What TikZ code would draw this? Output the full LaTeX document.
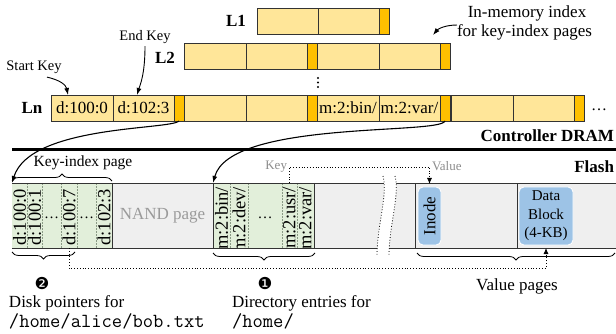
\documentclass[tikz,border=0pt]{standalone}
\usepackage{fontspec}
\setmainfont{Liberation Serif}
\newfontfamily\dingfont{DejaVu Sans}
\usetikzlibrary{arrows.meta,decorations.pathreplacing}

\definecolor{ylw}{HTML}{FFE699}
\definecolor{org}{HTML}{FFC000}
\definecolor{linec}{HTML}{333333}
\definecolor{grn}{HTML}{E2EFDA}
\definecolor{fgray}{HTML}{EFEFEF}
\definecolor{blu}{HTML}{9DC3E6}
\definecolor{nandg}{HTML}{9A9A9A}
\definecolor{keyg}{HTML}{8C8C8C}
\definecolor{divc}{HTML}{8A9A85}

\newcommand\fsA{\fontsize{17}{20}\selectfont}
\newcommand\fsB{\fontsize{14.5}{17}\selectfont}
\newcommand\fsC{\fontsize{13}{15}\selectfont}
\newcommand\fsD{\fontsize{15}{18.5}\selectfont}
\newcommand\fsR{\fontsize{18.5}{20}\selectfont}
\newcommand\fsK{\fontsize{15.5}{18}\selectfont}
\newcommand\fsM{\ttfamily\fontsize{20}{22}\selectfont}

\begin{document}
\begin{tikzpicture}[x=1pt,y=-1pt,font=\fsA,
  every node/.style={inner sep=0pt,outer sep=0pt},
  ycell/.style={draw=linec,line width=0.9pt,fill=ylw,minimum height=26pt,anchor=north west},
  ocell/.style={ycell,fill=org,minimum width=10pt},
  lvl/.style={font=\fsA\bfseries,anchor=base},
  gcell/.style={fill=grn,minimum height=65pt,anchor=north west},
  rtxt/.style={rotate=90,anchor=east,font=\fsR},
  gdiv/.style={draw=divc,line width=0.6pt,dash pattern=on 2pt off 1pt},
  sdiv/.style={draw=linec,line width=0.9pt},
  page/.style={draw=linec,line width=0.9pt,minimum height=65pt,anchor=north west},
  bluebox/.style={fill=blu,draw=white,line width=0.8pt,rounded corners=5pt},
  conn/.style={line width=1.1pt,-{Latex[length=7pt,width=5pt]}},
  dotc/.style={line width=0.8pt,dotted},
  dotarr/.style={dotc,-{Latex[length=6pt,width=5pt]}},
  brc/.style={decorate,decoration={brace,amplitude=7pt},line width=0.8pt},
  gtxt/.style={text=keyg,font=\fsC},
  ell/.style={anchor=base,font=\fontsize{15}{15}\selectfont},
  numb/.style={anchor=base,font=\dingfont\fontsize{16.5}{16.5}\selectfont},
]
\useasboundingbox (0,0) rectangle (616,334);

% ---------------- controller DRAM: levels of the in-memory index
\node[lvl] (l1lbl) at (236,27) {L1};
\node[ycell,minimum width=61pt] (a1) at (257,8) {};
\node[ycell,minimum width=61pt] (a2) at (318,8) {};
\node[ocell] (a3) at (379,8) {};

\node[lvl] (l2lbl) at (165,64) {L2};
\node[ycell,minimum width=62pt] (b1) at (184,43) {};
\node[ycell,minimum width=61pt] (b2) at (246,43) {};
\node[ocell] (b3) at (307,43) {};
\node[ycell,minimum width=62pt] (b4) at (317,43) {};
\node[ycell,minimum width=61pt] (b5) at (379,43) {};
\node[ocell] (b6) at (440,43) {};

\foreach \yy in {78,82.5,87} \fill (318,\yy) circle (1.1pt);

\node[lvl] (lnlbl) at (32,114) {Ln};
\node[ycell,minimum width=62pt] (c1) at (51,95) {d:100:0};
\node[ycell,minimum width=61pt] (c2) at (113,95) {d:102:3};
\node[ocell] (c3) at (174,95) {};
\node[ycell,minimum width=62pt] (c4) at (184,95) {};
\node[ycell,minimum width=61pt] (c5) at (246,95) {};
\node[ocell] (c6) at (307,95) {};
\node[ycell,minimum width=62pt] (c7) at (317,95) {m:2:bin/};
\node[ycell,minimum width=61pt] (c8) at (379,95) {m:2:var/};
\node[ocell] (c9) at (440,95) {};
\node[ycell,minimum width=62pt] (c10) at (451,95) {};
\node[ycell,minimum width=61pt] (c11) at (513,95) {};
\node[ocell] (c12) at (574,95) {};
\node[anchor=base,font=\fontsize{16}{16}\selectfont] (more) at (599,111) {…};

% key labels
\node[anchor=base,font=\fsB] (skey) at (34,71) {Start Key};
\node[anchor=base,font=\fsB] (ekey) at (145,41) {End Key};
\draw[conn,line width=0.9pt] ([xshift=13pt,yshift=-3pt]skey.south) .. controls (60,80) and (66,85) .. ([xshift=-14pt]c1.north);
\draw[conn,line width=0.9pt] ([yshift=-2pt]ekey.south) .. controls (145,75) and (140,85) .. ([xshift=-6.5pt]c2.north);

\node[anchor=base] (im1) at (527,18) {In-memory index};
\node[anchor=base] (im2) at (524.5,37) {for key-index pages};
\coordinate (imtip) at (433,35);
\draw[conn,line width=0.9pt] (im2.north west) .. controls (445,25) and (438,29) .. (imtip);

\node[anchor=base east,font=\fsA\bfseries] (dram) at (614,142) {Controller DRAM};
\draw[line width=3pt] (12,150) -- (630,150);
\node[anchor=base east,font=\fsA\bfseries] (flash) at (614,172) {Flash};

% ---------------- flash pages
\node[page,fill=fgray,minimum width=640pt] (strip) at (12,183) {};

% key-index page
\node[gcell,minimum width=15pt] (k0) at (12,183) {};
\node[gcell,minimum width=15pt] (k1) at (27,183) {};
\node[gcell,minimum width=19pt] (k2) at (42,183) {};
\node[gcell,minimum width=16pt] (k3) at (61,183) {};
\node[gcell,minimum width=19pt] (k4) at (77,183) {};
\node[gcell,minimum width=16pt] (k5) at (96,183) {};
\node[anchor=north west,minimum width=101pt,minimum height=65pt,text=nandg] (nand) at (112,183) {NAND page};

% directory entries
\node[gcell,minimum width=17pt] (m0) at (213,183) {};
\node[gcell,minimum width=18pt] (m1) at (230,183) {};
\node[gcell,minimum width=34pt] (m2) at (248,183) {};
\node[gcell,minimum width=15pt] (m3) at (282,183) {};
\node[gcell,minimum width=17pt] (m4) at (297,183) {};

\begin{scope}
  \clip (12,183) rectangle (616,248);
  \node[rtxt] (t0) at ([yshift=-6pt]k0.north) {d:100:0};
  \node[rtxt] (t1) at ([yshift=-6pt]k1.north) {d:100:1};
  \node[rtxt] (t3) at ([yshift=-6pt]k3.north) {d:100:7};
  \node[rtxt] (t5) at ([yshift=-6pt]k5.north) {d:102:3};
  \node[rtxt] (u0) at ([yshift=-4pt]m0.north) {m:2:bin/};
  \node[rtxt] (u1) at ([yshift=-4pt]m1.north) {m:2:dev/};
  \node[rtxt] (u3) at ([yshift=-4pt]m3.north) {m:2:usr/};
  \node[rtxt] (u4) at ([yshift=-4pt]m4.north) {m:2:var/};
\end{scope}
\node[ell] (e2) at ([yshift=-3pt]k2.center) {…};
\node[ell] (e4) at ([yshift=-3pt]k4.center) {…};
\node[ell] (e5) at ([yshift=-3pt]m2.center) {…};

\foreach \c in {k0,k1,k2,k3,k4,m0,m1,m2,m3}
  \draw[gdiv] (\c.north east) -- (\c.south east);
\foreach \c in {k5,m4}
  \draw[sdiv] (\c.north east) -- (\c.south east);
\draw[sdiv] (m0.north west) -- (m0.south west);
\draw[sdiv] (strip.north west) -- (strip.north east);
\draw[sdiv] (strip.south west) -- (strip.south east);

% break in the flash address space
\fill[white] (383,176) .. controls (388,195) and (377,225) .. (377,256)
  -- (389,256) .. controls (389,225) and (400,195) .. (395,176) -- cycle;
\draw[dotc] (383,176) .. controls (388,195) and (377,225) .. (377,256);
\draw[dotc] (395,176) .. controls (400,195) and (389,225) .. (389,256);

% value pages
\node[page,minimum width=102pt] (vp1) at (415,183) {};
\node[page,minimum width=130pt] (vp2) at (517,183) {};
\node[bluebox,rotate=90,minimum width=58pt,minimum height=23pt] (inode) at (429.5,216) {Inode};
\node[bluebox,anchor=north west,minimum width=54pt,minimum height=58pt,align=center,font=\fsD] (db) at (519,187) {Data\\Block\\(4-KB)};

% connectors from the DRAM index into flash
\draw[conn] (c3.south) .. controls (170,130) and (30,125) .. (k0.north west);
\draw[conn] (c9.south) .. controls (440,135) and (230,120) .. (m0.north west);

% key -> value lookup
\coordinate (kv) at (0,167);
\node[gtxt,anchor=base east] (keylbl) at (287,170) {Key};
\node[gtxt,anchor=base west] (vallbl) at (432,171) {Value};
\draw[dotarr] (m3.north) |- (kv -| inode.east) -- ([yshift=3pt]inode.east);

% disk pointer -> data block
\coordinate (dpy) at (0,268);
\draw[dotarr] (k3.south) |- (dpy -| db.south) -- ([yshift=-3pt]db.south);

% braces
\draw[brc] ([yshift=2pt]k0.north west) -- ([yshift=2pt]k5.north east);
\node[anchor=base,font=\fsK] (kip) at (83,167) {Key-index page};
\draw[brc] ([xshift=-2pt,yshift=-4pt]k3.south east) -- ([yshift=-4pt]k0.south west);
\draw[brc] ([xshift=1pt,yshift=-5pt]m4.south east) -- ([yshift=-5pt]m0.south west);
\draw[brc] (615,253) -- ([xshift=2pt,yshift=-5pt]vp1.south west);

% annotations
\node[numb] (n2) at (42,289) {❷};
\node[numb] (n1) at (265,289) {❶};
\node[anchor=base west] (dp1) at (9,307) {Disk pointers for};
\node[anchor=base west,font=\fsM] (dp2) at (9,327) {/home/alice/bob.txt};
\node[anchor=base west] (de1) at (232,307) {Directory entries for};
\node[anchor=base west,font=\fsM] (de2) at (232,327) {/home/};
\node[anchor=base] (vpl) at (517,290) {Value pages};
\end{tikzpicture}
\end{document}
